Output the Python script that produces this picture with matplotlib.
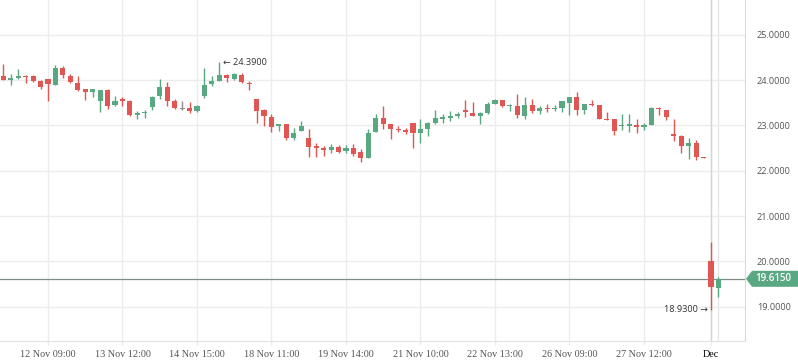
import matplotlib
matplotlib.use("Agg")
import matplotlib.pyplot as plt
import matplotlib.transforms as mtransforms
from matplotlib.patches import Polygon
import numpy as np

# ---- data ----
opens = [24.10, 24.02, 24.04, 24.10, 24.08, 23.97, 24.03, 23.89, 24.27, 24.10,
         23.94, 23.81, 23.73, 23.54, 23.77, 23.45, 23.56, 23.54, 23.23, 23.28,
         23.40, 23.65, 23.84, 23.53, 23.37, 23.38, 23.31, 23.65, 23.91, 23.97,
         24.12, 24.03, 24.12, 23.94, 23.58, 23.33, 23.18, 22.99, 23.02, 22.72,
         22.88, 22.72, 22.53, 22.50, 22.45, 22.52, 22.43, 22.50, 22.41, 22.29,
         22.86, 23.16, 23.02, 22.92, 22.89, 23.05, 22.83, 22.93, 23.06, 23.15,
         23.16, 23.21, 23.35, 23.27, 23.21, 23.27, 23.48, 23.55, 23.43, 23.42,
         23.21, 23.46, 23.32, 23.38, 23.36, 23.38, 23.49, 23.62, 23.35, 23.48,
         23.46, 23.14, 23.13, 22.99, 23.00, 23.00, 22.98, 23.01, 23.38, 23.33,
         22.80, 22.77, 22.55, 22.61, 22.30, 20.00, 19.41]
highs = [24.36, 24.14, 24.25, 24.12, 24.12, 24.01, 24.03, 24.34, 24.32, 24.14,
         24.10, 23.81, 23.81, 23.78, 23.81, 23.65, 23.62, 23.56, 23.32, 23.33,
         23.65, 24.03, 23.95, 23.58, 23.53, 23.51, 23.44, 24.27, 24.10, 24.39,
         24.14, 24.16, 24.16, 23.97, 23.58, 23.37, 23.26, 23.02, 23.02, 22.94,
         23.09, 22.91, 22.62, 22.55, 22.58, 22.56, 22.56, 22.58, 22.47, 22.91,
         23.26, 23.42, 23.02, 22.99, 22.95, 23.05, 23.13, 23.07, 23.33, 23.25,
         23.31, 23.30, 23.55, 23.51, 23.30, 23.51, 23.59, 23.55, 23.47, 23.70,
         23.62, 23.59, 23.42, 23.48, 23.46, 23.53, 23.62, 23.73, 23.48, 23.57,
         23.46, 23.29, 23.13, 23.24, 23.24, 23.13, 23.05, 23.40, 23.40, 23.35,
         23.15, 22.79, 22.72, 22.68, 22.30, 20.42, 19.66]
lows = [24.00, 23.89, 24.03, 23.93, 23.95, 23.80, 23.54, 23.88, 24.04, 23.94,
        23.76, 23.56, 23.62, 23.29, 23.36, 23.43, 23.43, 23.21, 23.13, 23.16,
        23.35, 23.58, 23.43, 23.36, 23.34, 23.27, 23.29, 23.60, 23.86, 23.97,
        23.95, 24.01, 23.94, 23.78, 23.05, 22.99, 22.86, 22.88, 22.67, 22.67,
        22.88, 22.31, 22.31, 22.33, 22.40, 22.40, 22.40, 22.32, 22.19, 22.29,
        22.86, 22.92, 22.70, 22.86, 22.81, 22.50, 22.62, 22.77, 23.03, 23.05,
        23.10, 23.16, 23.18, 23.21, 23.03, 23.25, 23.48, 23.40, 23.31, 23.16,
        23.14, 23.27, 23.25, 23.29, 23.32, 23.29, 23.23, 23.23, 23.25, 23.43,
        23.14, 23.12, 22.79, 22.90, 22.86, 22.83, 22.90, 23.01, 23.23, 23.12,
        22.66, 22.40, 22.26, 22.24, 22.29, 18.93, 19.21]
closes = [24.01, 24.03, 24.10, 24.06, 23.97, 23.84, 23.91, 24.27, 24.11, 23.95,
          23.79, 23.73, 23.81, 23.77, 23.43, 23.54, 23.55, 23.23, 23.27, 23.29,
          23.62, 23.84, 23.54, 23.38, 23.37, 23.32, 23.42, 23.90, 23.97, 24.12,
          24.04, 24.14, 23.95, 23.91, 23.32, 23.20, 22.97, 23.02, 22.72, 22.83,
          22.99, 22.53, 22.51, 22.45, 22.52, 22.42, 22.51, 22.37, 22.29, 22.84,
          23.16, 23.03, 22.92, 22.90, 22.86, 22.83, 22.91, 23.05, 23.16, 23.17,
          23.21, 23.25, 23.30, 23.21, 23.27, 23.48, 23.55, 23.43, 23.45, 23.23,
          23.46, 23.32, 23.38, 23.37, 23.38, 23.53, 23.62, 23.35, 23.48, 23.44,
          23.14, 23.12, 22.88, 23.01, 23.01, 22.97, 23.00, 23.38, 23.36, 23.19,
          22.78, 22.55, 22.61, 22.31, 22.29, 19.43, 19.615]

tick_idx = [6, 16, 26, 36, 46, 56, 66, 76, 86, 95]
tick_labels = ["12 Nov 09:00", "13 Nov 12:00", "14 Nov 15:00", "18 Nov 11:00",
               "19 Nov 14:00", "21 Nov 10:00", "22 Nov 13:00", "26 Nov 09:00",
               "27 Nov 12:00", "Dec"]
y_ticks = [19, 20, 21, 22, 23, 24, 25]
last_price = 19.615
max_label = "24.3900"
max_idx = 29
min_label = "18.9300"
min_idx = 95

# ---- style ----
GREEN = "#5aa882"
RED = "#e05652"
GRAY = "#8c8c8c"
GRID = "#ececec"

fig = plt.figure(figsize=(7.98, 3.63), dpi=100)
ax = fig.add_axes([0.0, 22 / 363, 745 / 798, 341 / 363])

o = np.array(opens); h = np.array(highs); l = np.array(lows); c = np.array(closes)
x = np.arange(len(o))
colors = [GREEN if cc > oo else (RED if cc < oo else GRAY) for oo, cc in zip(o, c)]

ax.vlines(x, l, h, colors=colors, linewidth=1.0, zorder=3)
body_lo = np.minimum(o, c)
body_h = np.abs(c - o)
min_h = 0.035
adj_lo = np.where(body_h < min_h, (o + c) / 2 - min_h / 2, body_lo)
adj_h = np.maximum(body_h, min_h)
ax.bar(x, adj_h, bottom=adj_lo, width=0.68, color=colors, linewidth=0, zorder=4)

ax.set_xlim(-0.44, 99.56)
ax.set_ylim(18.243, 25.766)

# grid
ax.set_yticks(y_ticks)
ax.set_yticklabels([f"{v:.4f}" for v in y_ticks])
ax.set_xticks(tick_idx)
ax.set_xticklabels(tick_labels)
ax.grid(True, color=GRID, linewidth=1.0, zorder=0)
ax.axvline(tick_idx[-1], color="#d4d4d4", linewidth=1.0, zorder=1)
ax.axvline(tick_idx[-1] + 1, color="#e6e6e6", linewidth=1.0, zorder=0)
ax.set_axisbelow(True)

ax.yaxis.tick_right()
ax.tick_params(axis="y", length=0, pad=8.5, labelsize=6.6, labelcolor="#555555")
ax.tick_params(axis="x", length=3, width=1, color=GRID, pad=3.5,
               labelsize=7.3, labelcolor="#555555")
for lbl in ax.get_yticklabels():
    lbl.set_fontfamily("Open Sans")
for lbl in ax.get_xticklabels():
    lbl.set_fontfamily("Liberation Serif")
ax.get_xticklabels()[-1].set_color("#000000")

for s in ["top", "left"]:
    ax.spines[s].set_visible(False)
ax.spines["bottom"].set_color("#e2e2e2")
ax.spines["right"].set_color("#dadada")

# last price line and tag
ax.axhline(last_price, color="#7f8c85", linewidth=0.9, zorder=2)
trans = mtransforms.blended_transform_factory(fig.transFigure, ax.transData)
dy = 8 / 45.33
poly = Polygon([(746 / 798, last_price), (752 / 798, last_price + dy),
                (798 / 798, last_price + dy), (798 / 798, last_price - dy),
                (752 / 798, last_price - dy)], closed=True,
               facecolor=GREEN, edgecolor="none", transform=trans, clip_on=False)
fig.patches.append(poly)
fig.text(773 / 798, last_price, f"{last_price:.4f}", transform=trans,
         ha="center", va="center", color="white", fontsize=7.0,
         fontweight="semibold", family=["Open Sans", "DejaVu Sans"])

# max / min annotations
ax.annotate("\u2190 " + max_label, xy=(max_idx, highs[max_idx]), xytext=(2.5, 0),
            textcoords="offset points", ha="left", va="center", fontsize=6.6,
            color="#333333", family=["Open Sans", "DejaVu Sans"])
ax.annotate(min_label + " \u2192", xy=(min_idx, lows[min_idx]), xytext=(-2, 0),
            textcoords="offset points", ha="right", va="center", fontsize=6.6,
            color="#333333", family=["Open Sans", "DejaVu Sans"])

fig.savefig("out.png", dpi=100)
